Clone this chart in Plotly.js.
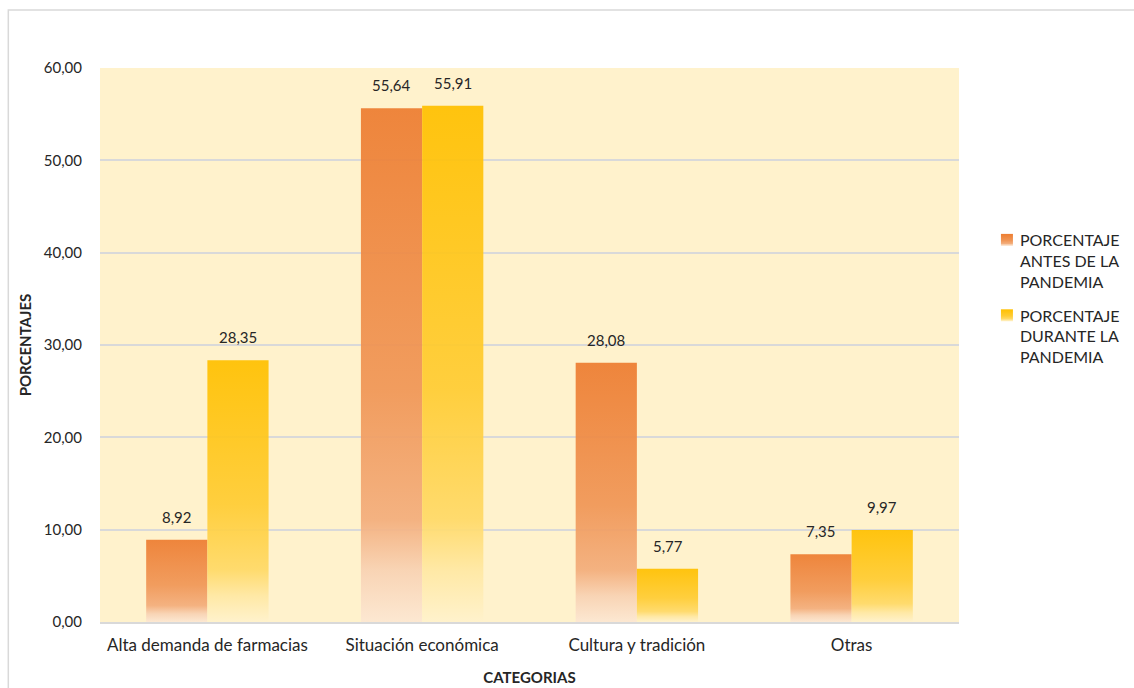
<!DOCTYPE html>
<html>
<head>
<meta charset="utf-8">
<script src="https://cdn.plot.ly/plotly-3.0.1.min.js"></script>
<style>
  html, body { margin: 0; padding: 0; background: #ffffff; }
  #chart { width: 1134px; height: 688px; }
</style>
</head>
<body>
<div id="chart"></div>
<script>
// ---- data ----
const categories = ["Alta demanda de farmacias", "Situación económica", "Cultura y tradición", "Otras"];
const antes = [8.92, 55.64, 28.08, 7.35];
const durante = [28.35, 55.91, 5.77, 9.97];
const seriesNames = ["PORCENTAJE<br>ANTES DE LA<br>PANDEMIA", "PORCENTAJE<br>DURANTE LA<br>PANDEMIA"];
const yTicks = [0, 10, 20, 30, 40, 50, 60];

// ---- layout geometry ----
const W = 1134, H = 688;
const M = { l: 100, r: 172, t: 68, b: 66 };
const PW = W - M.l - M.r, PH = H - M.t - M.b;
const BARGAP = 0.43;
const FONT = "Lato, 'Open Sans', sans-serif";
const TXT = "#262626";

const barHalfPx = (1 - BARGAP) * PW / categories.length / 2;

const traces = [
  { type: "bar", name: seriesNames[0], legendgroup: "a", x: categories, y: antes,
    marker: { color: "#ED7D31", opacity: 0.93, line: { width: 0 } }, hoverinfo: "none" },
  { type: "bar", name: seriesNames[1], legendgroup: "b", x: categories, y: durante,
    marker: { color: "#FFC000", opacity: 0.93, line: { width: 0 } }, hoverinfo: "none" }
];

const annotations = [];
[antes, durante].forEach((vals, s) => {
  vals.forEach((v, i) => {
    annotations.push({
      x: categories[i], y: v, xref: "x", yref: "y",
      text: v.toFixed(2).replace(".", ","), showarrow: false,
      xshift: (s === 0 ? -1 : 1) * barHalfPx / 2,
      yanchor: "bottom", yshift: 12,
      font: { family: FONT, size: 15, color: TXT }
    });
  });
});

const px2x = p => (p - M.l) / PW;
const px2y = p => (H - M.b - p) / PH;

const layout = {
  width: W, height: H,
  margin: M,
  paper_bgcolor: "#ffffff",
  plot_bgcolor: "#FFF2CC",
  separators: ",.",
  font: { family: FONT, size: 15, color: TXT },
  barmode: "group",
  bargap: BARGAP,
  bargroupgap: 0,
  showlegend: true,
  legend: {
    x: px2x(980), y: px2y(223), xanchor: "left", yanchor: "top",
    font: { family: FONT, size: 16, color: TXT },
    tracegroupgap: 10, traceorder: "grouped", valign: "top",
    bgcolor: "rgba(0,0,0,0)"
  },
  xaxis: {
    type: "category",
    showline: true, linecolor: "#D9D9D9", linewidth: 2,
    ticks: "", tickfont: { family: FONT, size: 17, color: TXT },
    ticklabelstandoff: 7,
    title: { text: "<b>CATEGORIAS</b>", font: { family: FONT, size: 15, color: TXT }, standoff: 18 },
    automargin: false, fixedrange: true
  },
  yaxis: {
    range: [0, 60], tickvals: yTicks, tickformat: ".2f",
    showgrid: true, gridcolor: "#D9D9D9", gridwidth: 2,
    zeroline: false, showline: false, ticks: "",
    tickfont: { family: FONT, size: 15, color: TXT },
    ticklabelstandoff: 17,
    title: { text: "<b>PORCENTAJES</b>", font: { family: FONT, size: 15, color: TXT }, standoff: 8 },
    automargin: false, fixedrange: true
  },
  annotations: annotations,
  shapes: [{
    type: "rect", xref: "paper", yref: "paper", layer: "below",
    x0: px2x(8), x1: px2x(1140), y0: px2y(700), y1: px2y(10),
    line: { color: "#D9D9D9", width: 1.5 }, fillcolor: "rgba(0,0,0,0)"
  }]
};

function addGradient(defs, id, stops) {
  const NS = "http://www.w3.org/2000/svg";
  const g = document.createElementNS(NS, "linearGradient");
  g.setAttribute("id", id);
  g.setAttribute("x1", "0"); g.setAttribute("y1", "0");
  g.setAttribute("x2", "0"); g.setAttribute("y2", "1");
  stops.forEach(([off, col]) => {
    const s = document.createElementNS(NS, "stop");
    s.setAttribute("offset", off);
    s.setAttribute("stop-color", col);
    g.appendChild(s);
  });
  defs.appendChild(g);
}

function applyGradients(gd) {
  const svg = gd.querySelector(".main-svg");
  let defs = svg.querySelector("defs");
  if (!defs) { defs = document.createElementNS("http://www.w3.org/2000/svg", "defs"); svg.prepend(defs); }
  addGradient(defs, "gradAntes", [[0, "#ED7D31"], [0.55, "#F09656"], [0.8, "#F3AD7B"], [0.9, "#F8D2B3"], [1, "#FCE7D2"]]);
  addGradient(defs, "gradDurante", [[0, "#FFC000"], [0.55, "#FFCC33"], [0.8, "#FFD966"], [0.9, "#FFE8A3"], [1, "#FFF2CC"]]);
  const ids = ["gradAntes", "gradDurante"];
  gd.querySelectorAll(".barlayer .trace").forEach((t, i) => {
    t.querySelectorAll("path").forEach(p => { p.style.fill = "url(#" + ids[i] + ")"; });
  });
  // nudge legend a few pixels right without changing the plot margins
  const leg = gd.querySelector(".legend");
  if (leg) {
    const tr = leg.getAttribute("transform") || "";
    const m = tr.match(/translate\(\s*([-\d.]+)[ ,]+([-\d.]+)\s*\)/);
    if (m) leg.setAttribute("transform", "translate(" + (parseFloat(m[1]) + 3) + "," + m[2] + ")");
  }
  gd.querySelectorAll(".legend .traces").forEach((t, i) => {
    const lp = t.querySelector(".legendpoints");
    if (lp) lp.setAttribute("transform", "translate(7,0)");
    t.querySelectorAll(".legendpoints path").forEach(p => { p.style.fill = "url(#" + ids[i] + ")"; });
  });
}

Plotly.newPlot("chart", traces, layout, { staticPlot: true, displayModeBar: false })
  .then(applyGradients);
</script>
</body>
</html>
